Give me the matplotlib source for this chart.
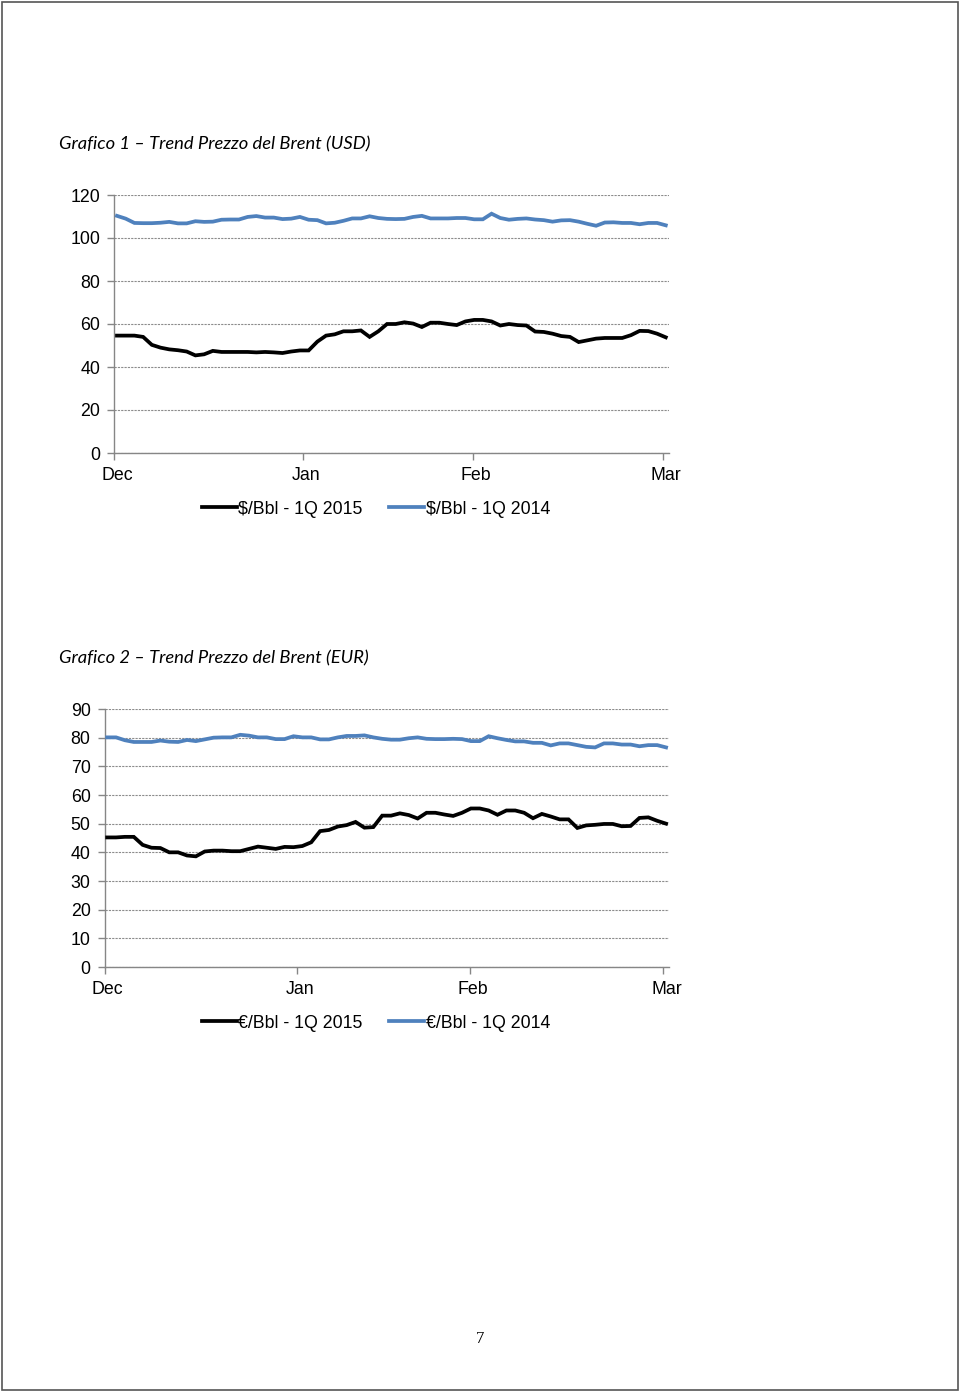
import matplotlib
matplotlib.use("Agg")
import matplotlib.pyplot as plt
import matplotlib.transforms as mtransforms
from matplotlib.lines import Line2D
from matplotlib.patches import Rectangle

# ---------------- data ----------------
month_labels = ["Dec", "Jan", "Feb", "Mar"]
month_ticks = [-0.3, 21.4, 40.9, 62.7]

usd_2015 = [54.6, 54.6, 54.6, 54.0, 50.3, 49.0, 48.2, 47.8, 47.2, 45.4,
            45.9, 47.5, 47.0, 47.0, 47.0, 47.0, 46.8, 47.0, 46.8, 46.5,
            47.2, 47.7, 47.7, 51.8, 54.6, 55.2, 56.6, 56.6, 57.0, 54.0,
            56.6, 60.0, 60.0, 60.8, 60.2, 58.6, 60.6, 60.6, 60.0, 59.5,
            61.2, 61.9, 61.9, 61.2, 59.3, 60.0, 59.5, 59.3, 56.5, 56.3,
            55.5, 54.4, 54.0, 51.6, 52.4, 53.2, 53.5, 53.5, 53.5, 54.8,
            56.8, 56.7, 55.5, 53.8]
usd_2014 = [110.3, 109.0, 107.0, 106.9, 106.9, 107.1, 107.5, 106.8, 106.8, 107.8,
            107.5, 107.6, 108.5, 108.6, 108.6, 109.8, 110.2, 109.5, 109.5, 108.8,
            109.0, 109.8, 108.5, 108.3, 106.8, 107.1, 108.0, 109.1, 109.1, 110.1,
            109.3, 108.9, 108.8, 108.9, 109.8, 110.3, 109.1, 109.1, 109.1, 109.3,
            109.3, 108.7, 108.7, 111.3, 109.3, 108.5, 108.9, 109.1, 108.6, 108.3,
            107.6, 108.2, 108.3, 107.6, 106.6, 105.7, 107.2, 107.3, 107.0, 107.0,
            106.4, 107.0, 107.0, 105.9]
eur_2015 = [45.2, 45.2, 45.4, 45.4, 42.6, 41.6, 41.5, 40.0, 40.0, 38.9,
            38.6, 40.3, 40.6, 40.6, 40.4, 40.4, 41.2, 42.0, 41.6, 41.2,
            41.9, 41.8, 42.2, 43.5, 47.4, 47.8, 49.0, 49.5, 50.6, 48.6,
            48.8, 52.8, 52.8, 53.6, 53.0, 51.8, 53.8, 53.8, 53.2, 52.7,
            53.8, 55.3, 55.3, 54.6, 53.1, 54.6, 54.6, 53.8, 51.9, 53.4,
            52.5, 51.5, 51.5, 48.5, 49.4, 49.6, 49.9, 49.9, 49.1, 49.2,
            52.0, 52.2, 51.0, 50.0]
eur_2014 = [80.1, 80.1, 79.1, 78.5, 78.5, 78.5, 79.0, 78.6, 78.5, 79.2,
            78.8, 79.4, 80.0, 80.1, 80.1, 81.0, 80.7, 80.1, 80.1, 79.5,
            79.5, 80.5, 80.1, 80.1, 79.4, 79.4, 80.1, 80.6, 80.6, 80.8,
            80.1, 79.6, 79.3, 79.3, 79.8, 80.1, 79.6, 79.5, 79.5, 79.6,
            79.5, 78.8, 78.8, 80.5, 79.8, 79.2, 78.7, 78.7, 78.2, 78.2,
            77.3, 78.0, 78.0, 77.4, 76.8, 76.6, 78.0, 78.0, 77.6, 77.6,
            77.0, 77.4, 77.4, 76.6]

titles = ["Grafico 1 \u2013 Trend Prezzo del Brent (USD)",
          "Grafico 2 \u2013 Trend Prezzo del Brent (EUR)"]
legend_usd = ["$/Bbl - 1Q 2015", "$/Bbl - 1Q 2014"]
legend_eur = ["\u20ac/Bbl - 1Q 2015", "\u20ac/Bbl - 1Q 2014"]

# ---------------- figure ----------------
W, H = 960, 1393
fig = plt.figure(figsize=(W / 100, H / 100), dpi=100)
fig.patch.set_facecolor("white")

plt.rcParams["font.family"] = ["Liberation Sans", "DejaVu Sans"]

BLUE = "#4F81BD"
AXC = "#868686"


def fx(px):
    return px / W


def fy(py):
    return 1 - py / H


def make_chart(left, right, top, bottom, xlim, ymax, ystep, s15, s14, labels,
               title, title_y, legend_y):
    ax = fig.add_axes([fx(left), fy(bottom), fx(right - left), (bottom - top) / H])
    x = list(range(len(s15)))
    ax.plot(x, s15, color="black", lw=2.7, solid_joinstyle="miter", zorder=3)
    ax.plot(x, s14, color=BLUE, lw=2.7, solid_joinstyle="miter", zorder=3)
    ax.set_xlim(*xlim)
    ax.set_ylim(0, ymax)
    ax.set_yticks(range(0, ymax + 1, ystep))
    ax.set_xticks(month_ticks)
    ax.set_xticklabels(month_labels)
    ax.grid(axis="y", color="#8c8c8c", lw=0.8, ls=(0, (2, 1)), zorder=1)
    for s in ["top", "right"]:
        ax.spines[s].set_visible(False)
    for s in ["left", "bottom"]:
        ax.spines[s].set_color(AXC)
        ax.spines[s].set_linewidth(1.0)
    ax.tick_params(axis="y", length=5, width=1.0, color=AXC, pad=5,
                   labelsize=12.8, labelcolor="black")
    ax.tick_params(axis="x", length=5, width=1.0, color=AXC, pad=5,
                   labelsize=12.8, labelcolor="black")
    off = mtransforms.ScaledTranslation(3 / 100, 0, fig.dpi_scale_trans)
    for lab in ax.get_xticklabels():
        lab.set_transform(lab.get_transform() + off)
    fig.text(fx(59), fy(title_y), title, fontsize=13.2, style="italic",
             family=["Lato", "DejaVu Sans"], va="center", ha="left")
    handles = [Line2D([], [], color="black", lw=2.7),
               Line2D([], [], color=BLUE, lw=2.7)]
    fig.legend(handles, labels, loc="center", bbox_to_anchor=(fx(376), fy(legend_y)),
               ncol=2, frameon=False, fontsize=12.8, handlelength=1.95,
               handletextpad=0.1, columnspacing=1.5, borderpad=0)
    return ax


make_chart(114, 669, 195, 453, (-0.344, 63.37), 120, 20, usd_2015, usd_2014,
           legend_usd, titles[0], 144, 509)
make_chart(104.5, 669, 709, 967, (-0.17, 63.33), 90, 10, eur_2015, eur_2014,
           legend_eur, titles[1], 658, 1023)

fig.text(fx(480), fy(1339), "7", fontsize=12, family=["Liberation Serif"],
         ha="center", va="center")

fig.patches.append(Rectangle((fx(2), fy(1390)), fx(956), (1388) / H,
                             transform=fig.transFigure, fill=False,
                             edgecolor="#555555", lw=1.2))

fig.savefig("out.png", dpi=100)
